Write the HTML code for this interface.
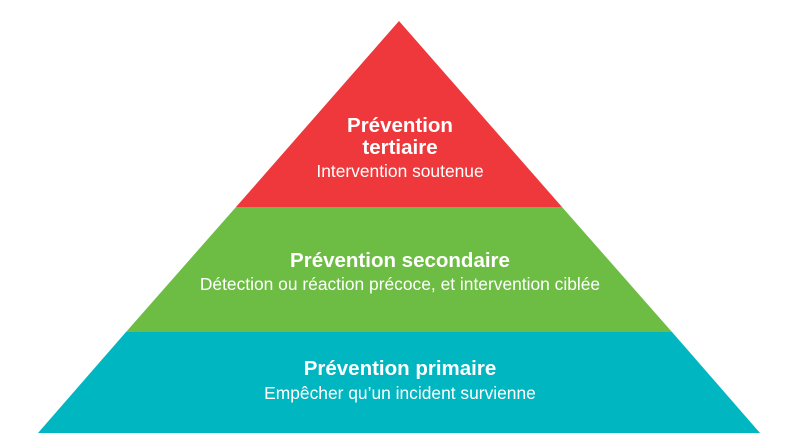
<!DOCTYPE html>
<html><head><meta charset="utf-8"><style>
html,body{margin:0;padding:0;background:#fff;}
svg{display:block;}
text{font-family:"Liberation Sans",Arial,sans-serif;fill:#fff;text-anchor:middle;}
.t{font-weight:bold;font-size:20.5px;}
.s{font-size:17.4px;}
</style></head><body>
<svg width="800" height="446" viewBox="0 0 800 446">
<polygon points="399,21 236,207 562,207" fill="#EE383B"/>
<polygon points="236,207 562,207 672,332 126,332" fill="#6DBD45"/>
<polygon points="126,332 672,332 760,433 38,433" fill="#00B6C1"/>
<text class="t" x="400" y="132">Prévention</text>
<text class="t" x="400" y="154">tertiaire</text>
<text class="s" x="400" y="177">Intervention soutenue</text>
<text class="t" x="400" y="267">Prévention secondaire</text>
<text class="s" x="400" y="290">Détection ou réaction précoce, et intervention ciblée</text>
<text class="t" x="400" y="375">Prévention primaire</text>
<text class="s" x="400" y="399">Empêcher qu’un incident survienne</text>
</svg>
</body></html>
